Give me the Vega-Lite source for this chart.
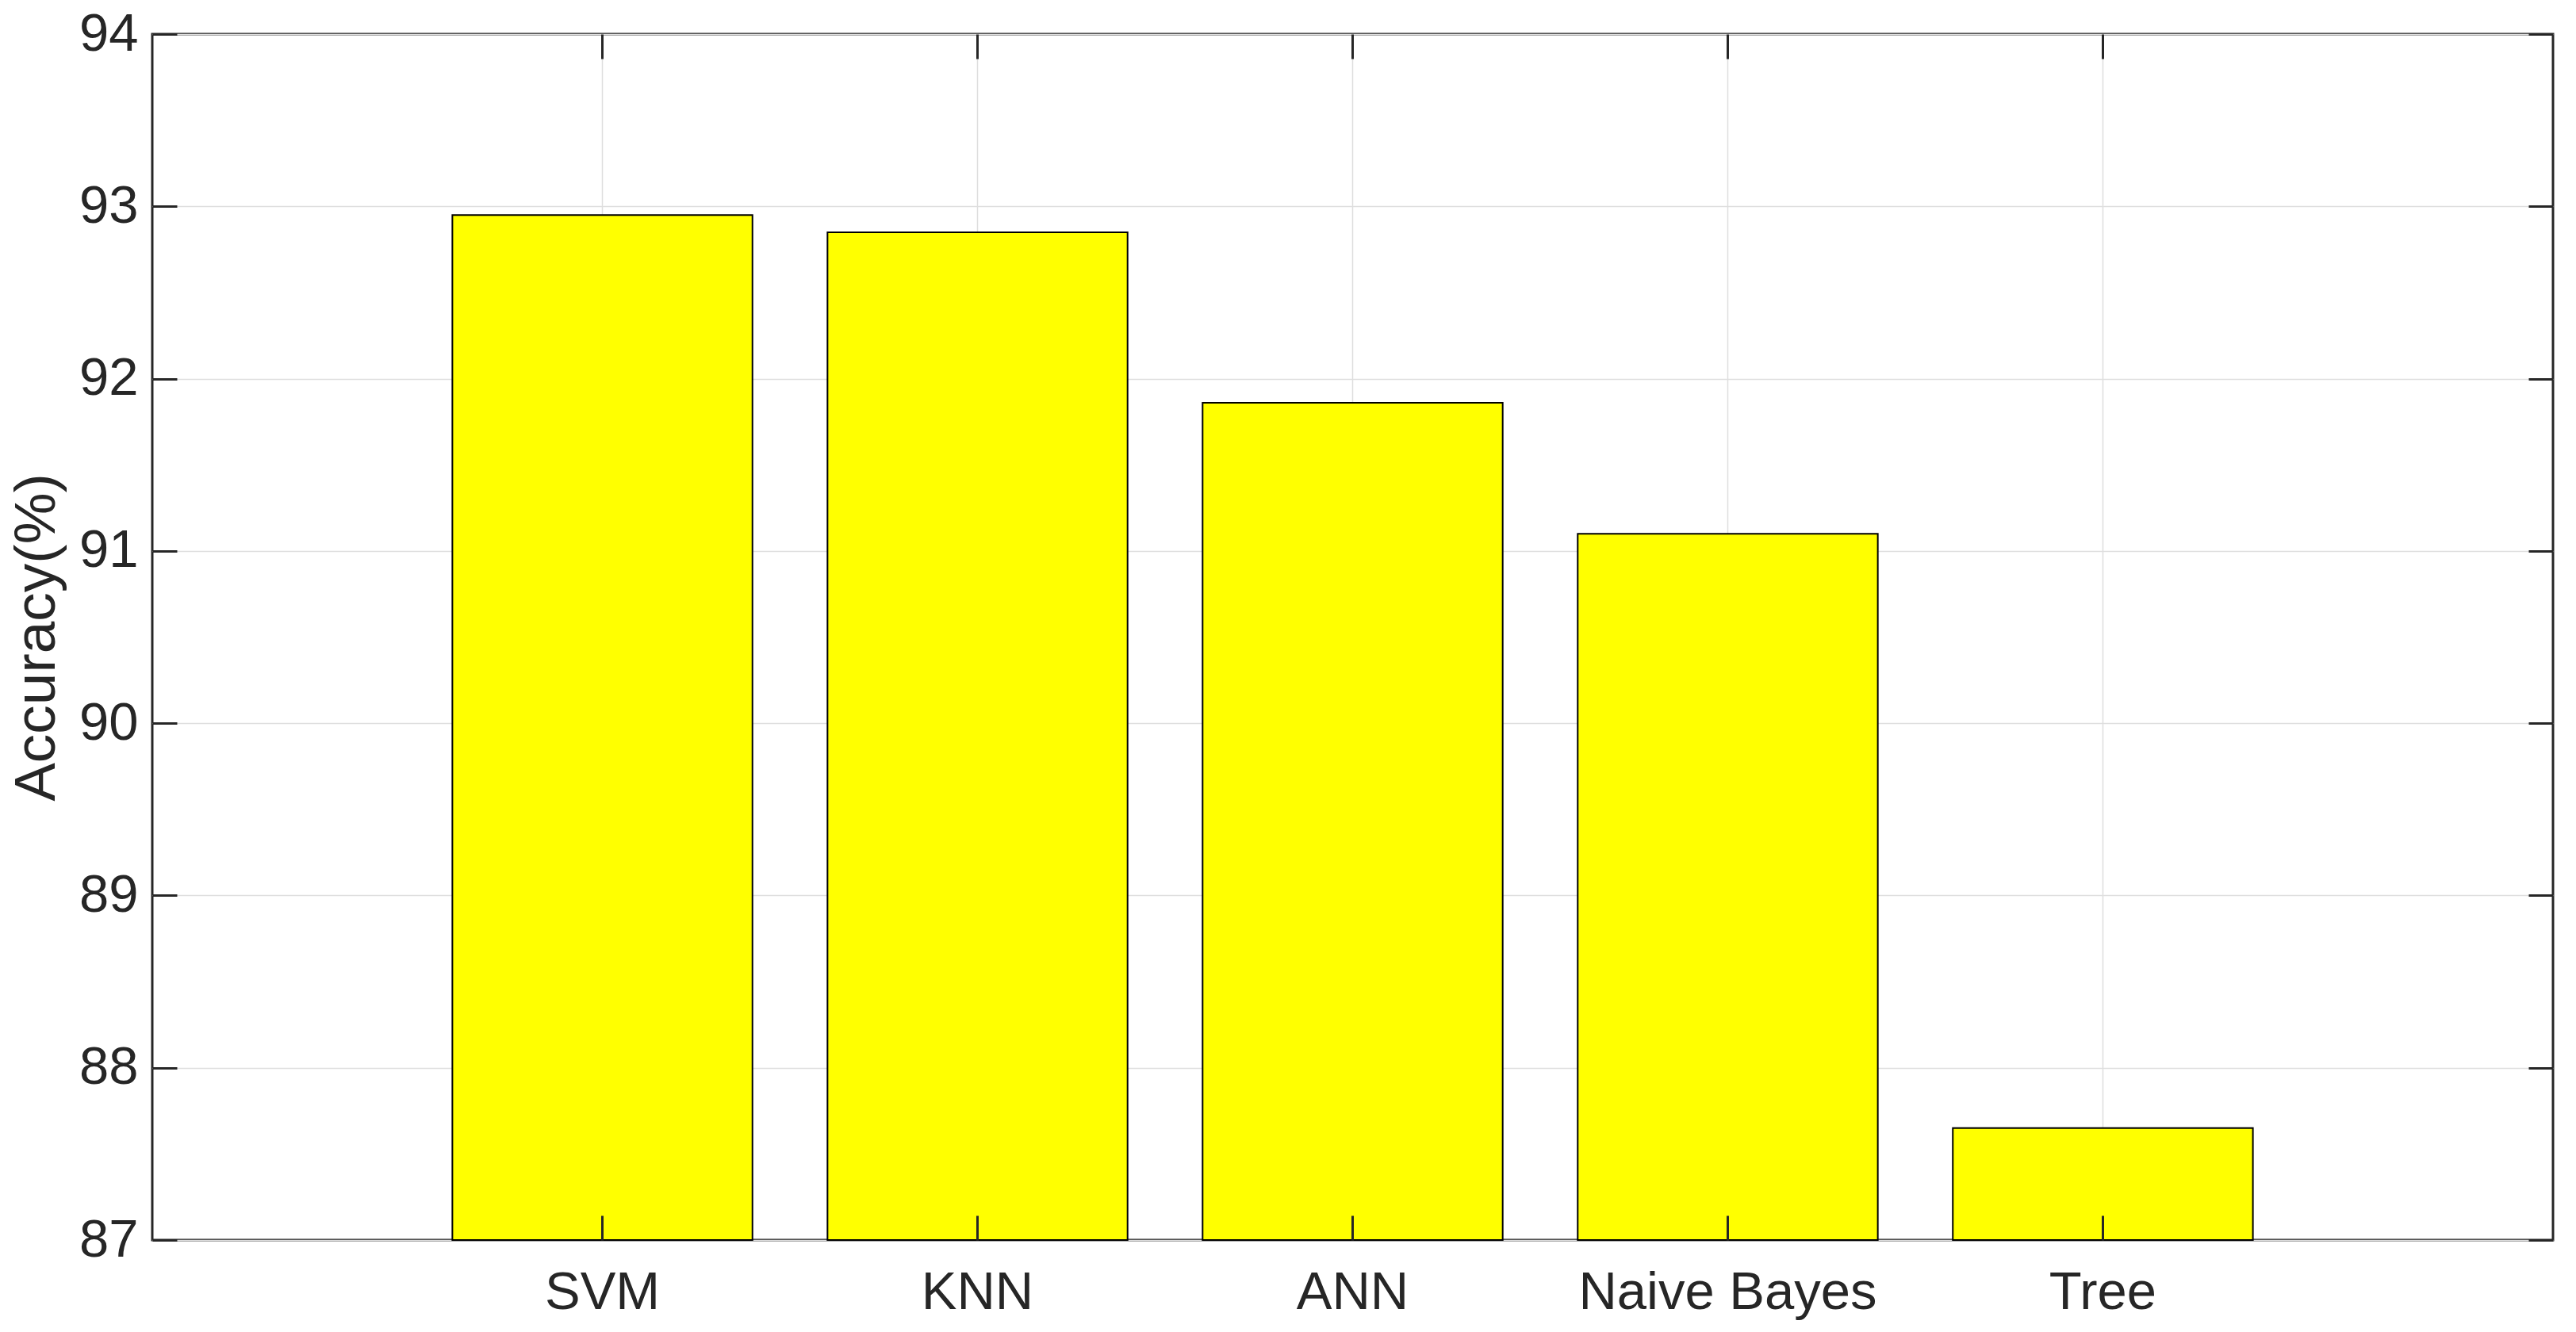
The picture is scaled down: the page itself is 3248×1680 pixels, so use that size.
{
  "$schema": "https://vega.github.io/schema/vega-lite/v6.json",
  "width": 3027,
  "height": 1521,
  "autosize": "none",
  "padding": {"left": 192, "top": 43, "right": 29, "bottom": 116},
  "background": "white",
  "config": {
    "font": "Liberation Sans",
    "view": {"stroke": "#262626", "strokeWidth": 3}
  },
  "data": {
    "values": [
      {"model": "SVM", "accuracy": 92.95},
      {"model": "KNN", "accuracy": 92.85},
      {"model": "ANN", "accuracy": 91.86},
      {"model": "Naive Bayes", "accuracy": 91.1},
      {"model": "Tree", "accuracy": 87.65}
    ]
  },
  "layer": [
    {
      "mark": {"type": "bar", "fill": "#ffff00", "stroke": "#000000", "strokeWidth": 2},
      "encoding": {
        "x": {
          "field": "model", "type": "nominal", "sort": null,
          "scale": {"paddingInner": 0.2, "paddingOuter": 0.8},
          "axis": {
            "orient": "bottom", "title": null, "labelAngle": 0, "labelLimit": 0,
            "labelFont": "Liberation Sans", "labelFontSize": 67, "labelColor": "#262626",
            "labelPadding": 64, "tickSize": -31, "tickWidth": 3, "tickColor": "#262626",
            "bandPosition": 0.5, "domain": false, "grid": false, "zindex": 1
          }
        },
        "y": {
          "field": "accuracy", "type": "quantitative",
          "scale": {"domain": [87, 94], "zero": false, "nice": false},
          "axis": {
            "orient": "left", "title": "Accuracy(%)", "values": [87, 88, 89, 90, 91, 92, 93, 94],
            "labelFont": "Liberation Sans", "labelFontSize": 67, "labelColor": "#262626",
            "labelPadding": 49, "tickSize": -31, "tickWidth": 3, "tickColor": "#262626",
            "titleFont": "Liberation Sans", "titleFontSize": 73, "titleFontWeight": "normal",
            "titleColor": "#262626", "titleX": -124, "titleBaseline": "alphabetic",
            "domain": false, "grid": false, "zindex": 1
          }
        },
        "y2": {"datum": 87}
      }
    },
    {
      "mark": {"type": "bar", "opacity": 0},
      "encoding": {
        "x": {
          "field": "model", "type": "nominal", "sort": null,
          "axis": {
            "orient": "top", "title": null, "labels": false,
            "tickSize": -31, "tickWidth": 3, "tickColor": "#262626",
            "bandPosition": 0.5, "domain": false,
            "grid": true, "gridColor": "#dedede", "gridWidth": 1.5, "zindex": 0
          }
        },
        "y": {
          "field": "accuracy", "type": "quantitative",
          "axis": {
            "orient": "right", "title": null, "labels": false, "values": [87, 88, 89, 90, 91, 92, 93, 94],
            "tickSize": -31, "tickWidth": 3, "tickColor": "#262626", "domain": false,
            "grid": true, "gridColor": "#dedede", "gridWidth": 1.5, "zindex": 0
          }
        },
        "y2": {"datum": 87}
      }
    }
  ],
  "resolve": {"axis": {"x": "independent", "y": "independent"}}
}
